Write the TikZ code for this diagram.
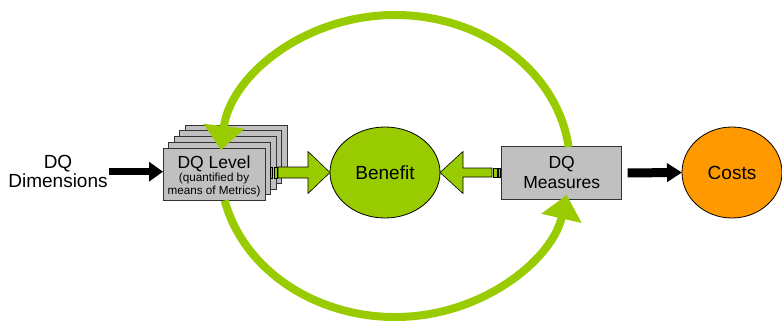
\documentclass[tikz,border=0pt]{standalone}
\usepackage{fontspec}
\setmainfont{Liberation Sans}
\usetikzlibrary{shapes.geometric,arrows.meta,calc}
\definecolor{dqgreen}{HTML}{99CC00}
\definecolor{dqorange}{HTML}{FF9900}
\definecolor{dqgray}{HTML}{C0C0C0}
\begin{document}
\begin{tikzpicture}[x=1pt,y=-1pt,
  big/.style={font=\fontsize{19}{19}\selectfont},
  mid/.style={font=\fontsize{17.5}{20}\selectfont},
  small/.style={font=\fontsize{11.7}{14}\selectfont},
  card/.style={draw=black!80, fill=dqgray, line width=0.8pt, minimum width=102pt, minimum height=52.5pt, inner sep=0pt, outer sep=0pt},
  mbox/.style={draw=black!80, fill=dqgray, line width=0.8pt, minimum width=120pt, minimum height=52.6pt, inner sep=0pt, outer sep=0pt},
  oval/.style={ellipse, draw=black, line width=0.8pt, inner sep=0pt, outer sep=0pt, big},
  blkin/.style={line width=6.5pt, -{Triangle[length=14pt,width=19pt]}},
  blkout/.style={line width=9pt, -{Triangle[length=15pt,width=18pt]}, shorten <=6pt},
  greenblock/.style={fill=dqgreen, draw=black, line width=0.6pt},
  loop/.style={draw=dqgreen, line width=8pt, -{Triangle[length=24pt,width=40pt]}},
  txt/.style={inner sep=0pt, outer sep=0pt}]
\useasboundingbox (0,0) rectangle (782,321);

% stacked DQ level cards
\foreach \k in {4,3,2,1}{
  \node[card] (back\k) at ({214+5.5*\k},{174.3-5.75*\k}) {};
}
\node[card] (lvl) at (214,174.3) {};
\node[txt, mid, anchor=base] (lvlt) at (214,168) {DQ Level};
\node[txt, small, anchor=base] (lvls1) at (214,181.5) {(quantified by};
\node[txt, small, anchor=base] (lvls2) at (214,194) {means of Metrics)};

% DQ measures box
\node[mbox] (meas) at (561.7,173) {};
\node[txt, mid, align=center] (meast) at (561.7,172) {DQ\\Measures};

% ellipses
\node[oval, fill=dqgreen, minimum width=110pt, minimum height=91pt] (ben) at (385,172.5) {Benefit};
\node[oval, fill=dqorange, minimum width=100pt, minimum height=91pt] (costs) at (732,172.5) {Costs};

% DQ Dimensions
\node[txt, big, align=center, inner xsep=1pt] (dims) at (58,171.7) {DQ\\Dimensions};

% black arrows
\draw[blkin] (dims.east) -- (dims.east -| lvl.west);
\draw[blkout] (meas.east) -- (costs.west);

% green block arrow DQ Level -> Benefit
\filldraw[greenblock] (ben.west) -- ++(-22,-21) -- ++(0,15.5) -- ++(-30,0) -- ++(0,11) -- ++(30,0) -- ++(0,15.5) -- cycle;
\filldraw[greenblock] ($(ben.west)+(-56,-5.5)$) rectangle ++(3.5,11);
\filldraw[greenblock] ($(ben.west)+(-60,-5.5)$) rectangle ++(2,11);

% green block arrow DQ Measures -> Benefit
\filldraw[greenblock] (ben.east) -- ++(23,-21) -- ++(0,16.5) -- ++(29,0) -- ++(0,9) -- ++(-29,0) -- ++(0,16.5) -- cycle;
\filldraw[greenblock] ($(ben.east)+(53.5,-4.5)$) rectangle ++(3.5,9);
\filldraw[greenblock] ($(ben.east)+(58.5,-4.5)$) rectangle ++(2,9);

% feedback loop
\coordinate (lc) at (395,166);
\draw[loop] (lc) ++(-7.23:175 and 151) arc[start angle=-7.23, end angle=-173.92, x radius=175, y radius=151];
\draw[loop] (lc) ++(166.8:175 and 151) arc[start angle=166.8, end angle=11.07, x radius=175, y radius=151];
\end{tikzpicture}
\end{document}
